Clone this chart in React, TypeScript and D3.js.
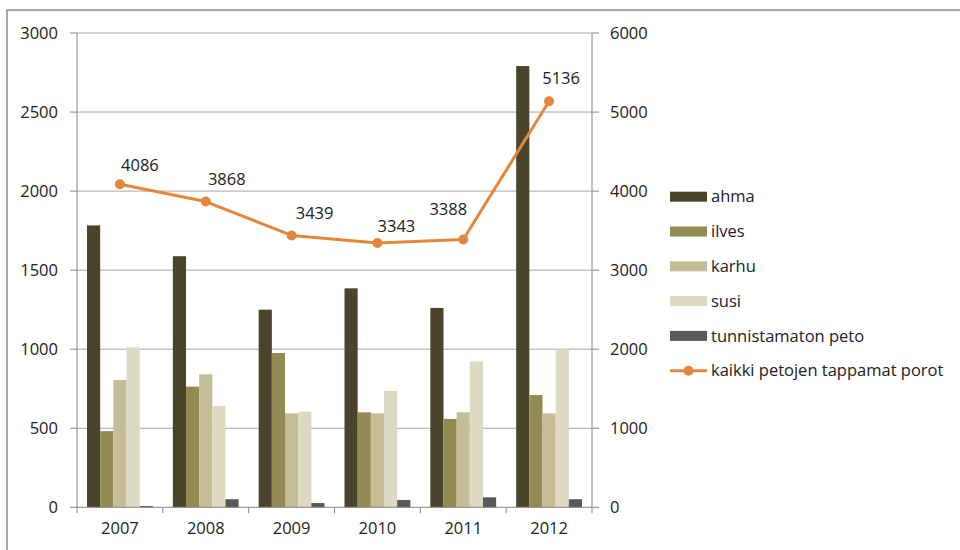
import React from "react";
import * as d3 from "d3";

const years = ["2007", "2008", "2009", "2010", "2011", "2012"];
const seriesNames = ["ahma", "ilves", "karhu", "susi", "tunnistamaton peto"];
const ahma = [1783, 1588, 1250, 1385, 1261, 2791];
const ilves = [482, 763, 976, 601, 559, 710];
const karhu = [805, 841, 594, 594, 601, 594];
const susi = [1012, 641, 605, 736, 923, 999];
const tunnistamaton = [8, 51, 27, 46, 63, 51];
const totalName = "kaikki petojen tappamat porot";
const totals = [4086, 3868, 3439, 3343, 3388, 5136];
const leftTicks = [0, 500, 1000, 1500, 2000, 2500, 3000];
const rightTicks = [0, 1000, 2000, 3000, 4000, 5000, 6000];

const colors = ["#4A452A", "#948A54", "#C4BD97", "#DDD9C3", "#595959"];
const lineColor = "#E4873C";
const labelOffsets: [number, number][] = [
  [20, -19],
  [21, -22],
  [23, -22],
  [19, -17],
  [-15, -30],
  [12, -23],
];

const font = "'Open Sans', sans-serif";
const fs = 16.5;

export default function App() {
  const series = [ahma, ilves, karhu, susi, tunnistamaton];
  const left = 77, right = 592, top = 33, bottom = 507.3;
  const x = d3.scaleBand().domain(years).range([left, right]).paddingInner(0).paddingOuter(0);
  const xs = d3
    .scaleBand()
    .domain(seriesNames)
    .range([0, x.bandwidth()])
    .paddingOuter(0.76)
    .paddingInner(0);
  const y = d3.scaleLinear().domain([0, 3000]).range([bottom, top]);
  const y2 = d3.scaleLinear().domain([0, 6000]).range([bottom, top]);
  const line = d3
    .line<number>()
    .x((_, i) => (x(years[i]) as number) + x.bandwidth() / 2)
    .y((d) => y2(d));

  const legendX = 670;
  const legendY0 = 196.7;
  const legendStep = 34.8;

  return (
    <svg width={960} height={550} style={{ display: "block", position: "absolute", left: 0, top: 0 }}>
      <rect x={0} y={0} width={960} height={550} fill="#fff" />
      <rect x={7} y={10} width={1000} height={600} fill="none" stroke="#8c8c8c" strokeWidth={1.5} />
      {leftTicks.map((t) => (
        <g key={t}>
          {t > 0 && <line x1={left} x2={right} y1={y(t)} y2={y(t)} stroke="#a6a6a6" strokeWidth={1} />}
          <line x1={left - 7} x2={left} y1={y(t)} y2={y(t)} stroke="#868686" strokeWidth={1} />
          <text x={58} y={y(t)} dy="0.35em" textAnchor="end" fontFamily={font} fontSize={fs} fill="#222">
            {t}
          </text>
        </g>
      ))}
      {rightTicks.map((t) => (
        <g key={t}>
          <line x1={right} x2={right + 7} y1={y2(t)} y2={y2(t)} stroke="#868686" strokeWidth={1} />
          <text x={610} y={y2(t)} dy="0.35em" textAnchor="start" fontFamily={font} fontSize={fs} fill="#222">
            {t}
          </text>
        </g>
      ))}
      {series.map((vals, si) =>
        vals.map((v, i) => (
          <rect
            key={si + "-" + i}
            x={(x(years[i]) as number) + (xs(seriesNames[si]) as number)}
            y={y(v)}
            width={xs.bandwidth()}
            height={bottom - y(v)}
            fill={colors[si]}
          />
        ))
      )}
      <line x1={left} x2={left} y1={top} y2={bottom} stroke="#868686" strokeWidth={1} />
      <line x1={right} x2={right} y1={top} y2={bottom} stroke="#868686" strokeWidth={1} />
      <line x1={left} x2={right} y1={bottom} y2={bottom} stroke="#868686" strokeWidth={1} />
      {years.map((yr) => (
        <g key={yr}>
          <line
            x1={x(yr) as number}
            x2={x(yr) as number}
            y1={bottom}
            y2={bottom + 6}
            stroke="#868686"
            strokeWidth={1}
          />
          <text
            x={(x(yr) as number) + x.bandwidth() / 2}
            y={528.5}
            dy="0.35em"
            textAnchor="middle"
            fontFamily={font}
            fontSize={fs}
            fill="#222"
          >
            {yr}
          </text>
        </g>
      ))}
      <line x1={right} x2={right} y1={bottom} y2={bottom + 6} stroke="#868686" strokeWidth={1} />
      <path d={line(totals) || ""} fill="none" stroke={lineColor} strokeWidth={3} strokeLinejoin="round" />
      {totals.map((v, i) => {
        const cx = (x(years[i]) as number) + x.bandwidth() / 2;
        const cy = y2(v);
        return (
          <g key={i}>
            <circle cx={cx} cy={cy} r={5} fill={lineColor} />
            <text
              x={cx + labelOffsets[i][0]}
              y={cy + labelOffsets[i][1]}
              dy="0.35em"
              textAnchor="middle"
              fontFamily={font}
              fontSize={fs}
              fill="#222"
            >
              {v}
            </text>
          </g>
        );
      })}
      {seriesNames.map((n, i) => (
        <g key={n}>
          <rect x={legendX} y={legendY0 + i * legendStep - 5} width={37} height={10} fill={colors[i]} />
          <text
            x={legendX + 41}
            y={legendY0 + i * legendStep}
            dy="0.35em"
            fontFamily={font}
            fontSize={fs}
            fill="#222"
          >
            {n}
          </text>
        </g>
      ))}
      <g>
        <line
          x1={legendX}
          x2={legendX + 37}
          y1={legendY0 + 5 * legendStep}
          y2={legendY0 + 5 * legendStep}
          stroke={lineColor}
          strokeWidth={3}
        />
        <circle cx={legendX + 18.5} cy={legendY0 + 5 * legendStep} r={5} fill={lineColor} />
        <text
          x={legendX + 41}
          y={legendY0 + 5 * legendStep}
          dy="0.35em"
          fontFamily={font}
          fontSize={fs}
          fill="#222"
        >
          {totalName}
        </text>
      </g>
    </svg>
  );
}
